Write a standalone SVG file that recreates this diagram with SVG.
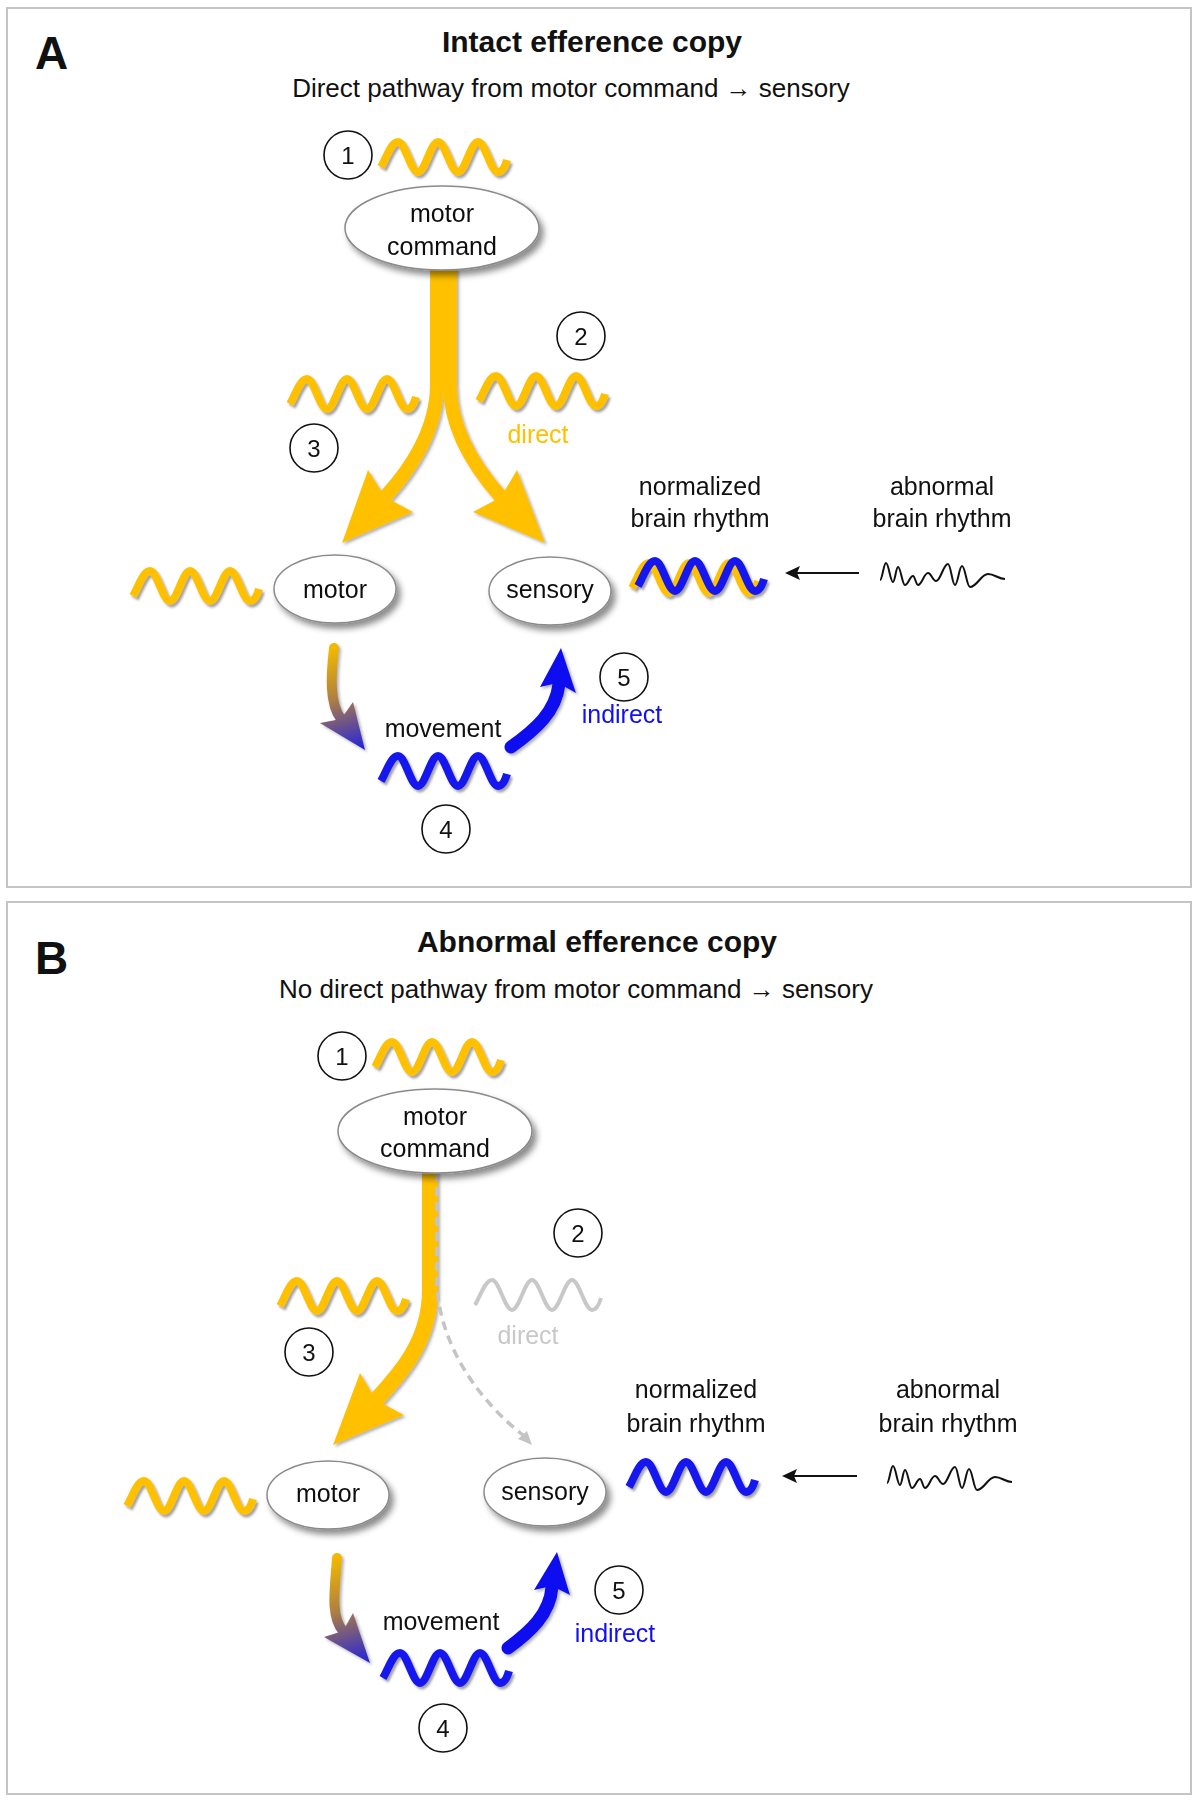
<svg xmlns="http://www.w3.org/2000/svg" xmlns:xlink="http://www.w3.org/1999/xlink" width="1199" height="1800" viewBox="0 0 1199 1800">
<style>
text { font-family: "Liberation Sans", Arial, sans-serif; fill: #111; }
.panel { font-size: 46px; font-weight: bold; }
.title { font-size: 30px; font-weight: bold; text-anchor: middle; }
.sub { font-size: 26px; text-anchor: middle; }
.lbl { font-size: 25px; text-anchor: middle; }
.num { font-size: 24px; text-anchor: middle; }
.frame { fill: #fff; stroke: #c4c4c4; stroke-width: 2; }
.node { fill: #fff; stroke: #8a8a8a; stroke-width: 1.5; }
.circ { fill: #fff; stroke: #111; stroke-width: 1.6; }
.wy { fill: none; stroke: #FFC000; stroke-width: 8; stroke-linecap: butt; }
.wb { fill: none; stroke: #1818EE; stroke-width: 8; stroke-linecap: butt; }
.wg { fill: none; stroke: #c8c8c8; stroke-width: 4; }
.sq { fill: none; stroke: #111; stroke-width: 2; stroke-linejoin: round; }
.ya { fill: none; stroke: #FFC000; stroke-linecap: butt; }
.yh { fill: #FFC000; }
.ba { fill: none; stroke: #1010F0; stroke-width: 13; stroke-linecap: round; }
.bh { fill: #1010F0; }
.dash { fill: none; stroke: #c4c4c4; stroke-width: 3.5; stroke-dasharray: 9 6; }
.blk { fill: none; stroke: #111; stroke-width: 2; }
.yt { fill: #FFC000; }
.bt { fill: #1010F0; }
.gt { fill: #c8c8c8; }
</style>
<defs>
<filter id="sh" x="-20%" y="-20%" width="150%" height="170%">
<feDropShadow dx="4" dy="5" stdDeviation="3" flood-color="#000" flood-opacity="0.45"/>
</filter>
<filter id="ws" x="-10%" y="-30%" width="120%" height="170%">
<feDropShadow dx="2" dy="2.5" stdDeviation="1" flood-color="#555" flood-opacity="0.55"/>
</filter>
<filter id="as" x="-20%" y="-10%" width="140%" height="130%">
<feDropShadow dx="2" dy="2" stdDeviation="1.5" flood-color="#555" flood-opacity="0.45"/>
</filter>
<path id="wave" d="M0,10 C5,2 10,-15 17,-15 C24.2,-15 29.8,15 37,15 C44.2,15 49.8,-15 57,-15 C64.2,-15 69.8,15 77,15 C84.2,15 89.8,-15 97,-15 C104.2,-15 109.8,15 117,15 C121,15 124,10 126,3"/>
<path id="squig" d="M1,4 C3.4,4 4.6,-13 7,-13 C9.8,-13 11.2,6 14,6 C16,6 17,-9 19,-9 C21.8,-9 23.2,9 26,9 C29.2,9 30.8,0 34,0 C36,0 37,9 39,9 C43,9 45,-3 49,-3 C52.2,-3 53.8,5 57,5 C61.8,5 64.2,-12 69,-12 C71.8,-12 73.2,9 76,9 C78.8,9 80.2,-10 83,-10 C86.2,-10 87.8,11 91,11 C98.2,11 101.8,-2 109,-2 C115.8,-2 119.2,3 126,3"/>
<linearGradient id="gA" gradientUnits="userSpaceOnUse" x1="334" y1="648" x2="365" y2="750">
<stop offset="0" stop-color="#F2B800"/><stop offset="0.45" stop-color="#B08040"/><stop offset="1" stop-color="#2020E0"/>
</linearGradient>
<linearGradient id="gB" gradientUnits="userSpaceOnUse" x1="337" y1="1558" x2="370" y2="1663">
<stop offset="0" stop-color="#F2B800"/><stop offset="0.45" stop-color="#B08040"/><stop offset="1" stop-color="#2020E0"/>
</linearGradient>
</defs>

<rect width="1199" height="1800" fill="#fff"/>

<!-- Panel A -->
<g id="panelA">
<rect class="frame" x="7" y="8" width="1184" height="879"/>
<text class="panel" x="35" y="69">A</text>
<text class="title" x="592" y="52">Intact efference copy</text>
<text class="sub" x="571" y="97">Direct pathway from motor command → sensory</text>
</g>

<!-- Panel B -->
<g id="panelB">
<rect class="frame" x="7" y="902" width="1184" height="892"/>
<text class="panel" x="35" y="974">B</text>
<text class="title" x="597" y="952">Abnormal efference copy</text>
<text class="sub" x="576" y="998">No direct pathway from motor command → sensory</text>
</g>

<g id="connectors">
<!-- A: yellow split arrows -->
<g filter="url(#as)">
<path class="ya" stroke-width="14" d="M437,262 L437,385 C437,430 410,470 385,497"/>
<polygon class="yh" points="368,470 385,497 413,512 342,543"/>
<path class="ya" stroke-width="14" d="M450,262 L450,385 C450,430 477,470 501,497"/>
<polygon class="yh" points="517,470 501,497 473,512 545,543"/>
</g>
<!-- A: motor -> movement gradient -->
<g filter="url(#as)">
<path fill="none" stroke="url(#gA)" stroke-width="10" stroke-linecap="round" d="M334,648 C331,675 329,703 341,719"/>
<polygon fill="url(#gA)" points="353,702 341,719 320,723 365,750"/>
</g>
<!-- A: movement -> sensory blue -->
<g filter="url(#as)">
<path class="ba" d="M511,747 C535,730 556,712 559,684"/>
<polygon class="bh" points="540,687 558,683 576,693 561,648"/>
</g>
<!-- A: abnormal -> normalized -->
<line class="blk" x1="859" y1="573" x2="796" y2="573"/>
<polygon fill="#111" points="785,573 800,566 797,573 800,580"/>

<!-- B: yellow arrow to motor -->
<g filter="url(#as)">
<path class="ya" stroke-width="16" d="M430,1165 L430,1290 C430,1340 402,1372 376,1400"/>
<polygon class="yh" points="360,1373 376,1400 404,1415 333,1445"/>
</g>
<!-- B: dashed direct -->
<path class="dash" d="M437,1172 L437,1285 C440,1345 478,1400 523,1435"/>
<polygon fill="#c4c4c4" points="532,1445 518,1439 527,1431"/>
<!-- B: gradient -->
<g filter="url(#as)">
<path fill="none" stroke="url(#gB)" stroke-width="10" stroke-linecap="round" d="M337,1558 C335,1588 330,1616 343,1631"/>
<polygon fill="url(#gB)" points="353,1613 343,1631 324,1637 370,1663"/>
</g>
<!-- B: blue -->
<g filter="url(#as)">
<path class="ba" d="M508,1648 C530,1632 550,1614 552,1587"/>
<polygon class="bh" points="534,1590 552,1586 570,1595 557,1552"/>
</g>
<line class="blk" x1="857" y1="1476" x2="793" y2="1476"/>
<polygon fill="#111" points="782,1476 797,1469 794,1476 797,1483"/>
</g>

<!-- Panel A nodes -->
<g id="A-motor-command" filter="url(#sh)">
<ellipse class="node" cx="442" cy="228" rx="97" ry="42"/>
<text class="lbl" x="442" y="222">motor</text>
<text class="lbl" x="442" y="255">command</text>
</g>
<g id="A-motor" filter="url(#sh)">
<ellipse class="node" cx="335" cy="589" rx="61" ry="34"/>
<text class="lbl" x="335" y="598">motor</text>
</g>
<g id="A-sensory" filter="url(#sh)">
<ellipse class="node" cx="550" cy="591" rx="61" ry="34"/>
<text class="lbl" x="550" y="598">sensory</text>
</g>

<g id="A-waves" filter="url(#ws)">
<use href="#wave" class="wy" transform="translate(381,157)"/>
<use href="#wave" class="wy" transform="translate(290,394)"/>
<use href="#wave" class="wy" transform="translate(479,391)"/>
<use href="#wave" class="wy" transform="translate(133,586)"/>
<use href="#wave" class="wb" transform="translate(381,771)"/>
<use href="#wave" class="wy" transform="translate(632,578)"/>
<use href="#wave" class="wb" transform="translate(638,576)"/>
</g>
<use href="#squig" class="sq" transform="translate(879,576)"/>

<g id="A-labels">
<text class="lbl yt" x="538" y="443">direct</text>
<text class="lbl bt" x="622" y="723">indirect</text>
<text class="lbl" x="443" y="737">movement</text>
<text class="lbl" x="700" y="495">normalized</text>
<text class="lbl" x="700" y="527">brain rhythm</text>
<text class="lbl" x="942" y="495">abnormal</text>
<text class="lbl" x="942" y="527">brain rhythm</text>
</g>

<g id="A-steps">
<circle class="circ" cx="348" cy="155" r="24"/><text class="num" x="348" y="163.5">1</text>
<circle class="circ" cx="581" cy="336" r="24"/><text class="num" x="581" y="344.5">2</text>
<circle class="circ" cx="314" cy="448" r="24"/><text class="num" x="314" y="456.5">3</text>
<circle class="circ" cx="446" cy="829" r="24"/><text class="num" x="446" y="837.5">4</text>
<circle class="circ" cx="624" cy="677" r="24"/><text class="num" x="624" y="685.5">5</text>
</g>

<!-- Panel B nodes -->
<g id="B-motor-command" filter="url(#sh)">
<ellipse class="node" cx="435" cy="1131" rx="97" ry="42"/>
<text class="lbl" x="435" y="1125">motor</text>
<text class="lbl" x="435" y="1157">command</text>
</g>
<g id="B-motor" filter="url(#sh)">
<ellipse class="node" cx="328" cy="1495" rx="61" ry="34"/>
<text class="lbl" x="328" y="1502">motor</text>
</g>
<g id="B-sensory" filter="url(#sh)">
<ellipse class="node" cx="545" cy="1492" rx="61" ry="34"/>
<text class="lbl" x="545" y="1500">sensory</text>
</g>

<g id="B-waves" filter="url(#ws)">
<use href="#wave" class="wy" transform="translate(375,1057)"/>
<use href="#wave" class="wy" transform="translate(280,1296)"/>
<use href="#wave" class="wy" transform="translate(127,1496)"/>
<use href="#wave" class="wb" transform="translate(383,1668)"/>
<use href="#wave" class="wb" transform="translate(629,1477)"/>
</g>
<use href="#wave" class="wg" transform="translate(475,1295)"/>
<use href="#squig" class="sq" transform="translate(886,1479)"/>

<g id="B-labels">
<text class="lbl gt" x="528" y="1344">direct</text>
<text class="lbl bt" x="615" y="1642">indirect</text>
<text class="lbl" x="441" y="1630">movement</text>
<text class="lbl" x="696" y="1398">normalized</text>
<text class="lbl" x="696" y="1432">brain rhythm</text>
<text class="lbl" x="948" y="1398">abnormal</text>
<text class="lbl" x="948" y="1432">brain rhythm</text>
</g>

<g id="B-steps">
<circle class="circ" cx="342" cy="1056" r="24"/><text class="num" x="342" y="1064.5">1</text>
<circle class="circ" cx="578" cy="1233" r="24"/><text class="num" x="578" y="1241.5">2</text>
<circle class="circ" cx="309" cy="1352" r="24"/><text class="num" x="309" y="1360.5">3</text>
<circle class="circ" cx="443" cy="1728" r="24"/><text class="num" x="443" y="1736.5">4</text>
<circle class="circ" cx="619" cy="1590" r="24"/><text class="num" x="619" y="1598.5">5</text>
</g>
</svg>
